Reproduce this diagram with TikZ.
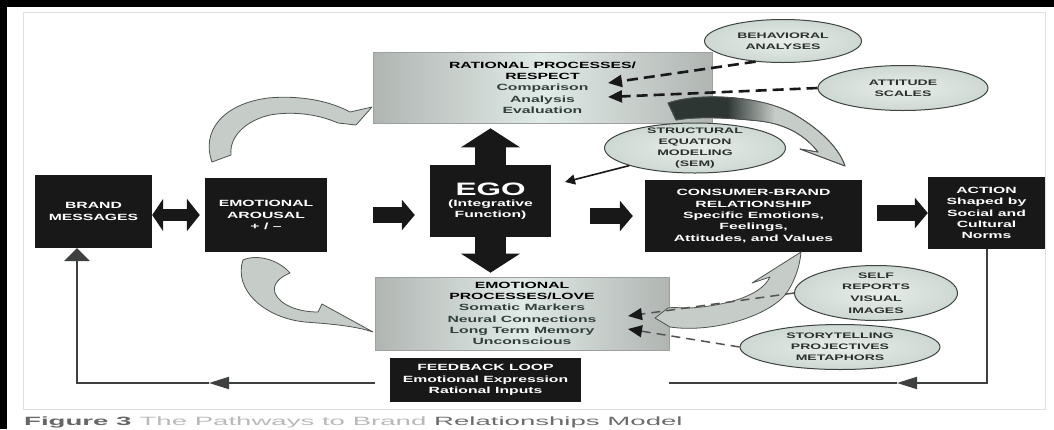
\documentclass[tikz,border=0pt]{standalone}
\usepackage{fontspec}
\setmainfont{Liberation Sans}[FakeStretch=1.75]
\newfontfamily\captionfont{Liberation Sans}[FakeStretch=2.3]
\usetikzlibrary{arrows.meta,shapes.geometric}

\definecolor{boxblack}{RGB}{24,24,24}
\definecolor{procedge}{RGB}{176,181,178}
\definecolor{procmid}{RGB}{224,234,230}
\definecolor{proctext}{RGB}{50,64,60}
\definecolor{ovalfill}{RGB}{206,216,210}
\definecolor{ovalin}{RGB}{232,238,234}
\definecolor{ovaledge}{RGB}{62,68,66}
\definecolor{bendfill}{RGB}{198,204,200}
\definecolor{bendedge}{RGB}{78,84,80}
\definecolor{benddark}{RGB}{46,54,51}
\definecolor{loopgray}{RGB}{62,64,64}

\newcommand{\proc}[1]{\textcolor{proctext}{#1}}

\tikzset{
  blackbox/.style={font=\bfseries\fontsize{9}{11.3}\selectfont, fill=boxblack, text=white, align=center, inner sep=0pt},
  procbox/.style={font=\bfseries\fontsize{9}{11.3}\selectfont, draw=gray!75, line width=0.6pt,
    left color=procedge, right color=procedge, middle color=procmid, text=black, align=center, inner sep=0pt},
  oval/.style={ellipse, draw=ovaledge, line width=1pt, inner color=ovalin, outer color=ovalfill, inner sep=0pt},
  ovaltext/.style={font=\bfseries\fontsize{8}{11.3}\selectfont, text=ovaledge!70!black, align=center, inner sep=0pt},
  fat/.style={color=boxblack, line width=16pt, -{Triangle[length=13pt,width=30pt]}},
  fatdouble/.style={color=boxblack, line width=12pt, {Triangle[length=11pt,width=32pt]}-{Triangle[length=13pt,width=32pt]}},
  fatv/.style={color=boxblack, line width=31pt, -{Triangle[length=19pt,width=58pt]}},
  dashtop/.style={color=boxblack, line width=2.6pt, dash pattern=on 11pt off 6pt, -{Triangle[length=14pt,width=12pt]}},
  dashlow/.style={draw=gray!65!black, line width=1.5pt, dash pattern=on 9pt off 6pt, -{Triangle[length=14pt,width=12pt,color=boxblack]}},
  semline/.style={color=boxblack, line width=1.6pt, -{Triangle[length=10pt,width=10pt]}},
  loopline/.style={color=loopgray, line width=2pt},
  bendarrow/.style={fill=bendfill, draw=bendedge, line width=0.8pt, line join=round},
}

\newcommand{\bendpathC}{(668,103) .. controls (700,92) and (760,96) .. (792,113)
  .. controls (815,126) and (838,145) .. (845,166) -- (800,149) -- (818,152)
  .. controls (805,135) and (785,124) .. (760,121) .. controls (730,118) and (700,116) .. (676,120) -- cycle}

\begin{document}
\begin{tikzpicture}[x=1pt, y=-1pt]
    \useasboundingbox (0,0) rectangle (1054,429);
    \fill[white] (0,0) rectangle (1054,429);
    % Page edges and figure frame
    \fill[black] (0,0) rectangle (1054,7);
    \fill[black] (0,0) rectangle (7,429);
    \draw[gray!25, line width=1pt] (23,12) rectangle (1045,409);

    % Black boxes
    \node[blackbox, minimum width=117pt, minimum height=73pt] (brand) at (93.5,211.5) {BRAND\\MESSAGES};
    \node[blackbox, minimum width=122pt, minimum height=74pt] (arousal) at (266,215) {EMOTIONAL\\AROUSAL\\+ / --};
    \node[blackbox, minimum width=121pt, minimum height=72pt] (ego) at (490.5,201)
        {{\fontsize{18}{20}\selectfont EGO}\\(Integrative\\Function)};
    \node[blackbox, minimum width=217pt, minimum height=72pt] (consumer) at (753.5,216)
        {CONSUMER-BRAND\\RELATIONSHIP\\Specific Emotions,\\Feelings,\\Attitudes, and Values};
    \node[blackbox, minimum width=117pt, minimum height=72pt] (action) at (986.5,213)
        {ACTION\\Shaped by\\Social and\\Cultural\\Norms};
    \node[blackbox, minimum width=191pt, minimum height=44pt] (feedback) at (485.5,380)
        {FEEDBACK LOOP\\Emotional Expression\\Rational Inputs};

    % Shaded process boxes
    \node[procbox, minimum width=339pt, minimum height=71pt] (rational) at (542.5,87.5)
        {RATIONAL PROCESSES/\\RESPECT\\\proc{Comparison}\\\proc{Analysis}\\\proc{Evaluation}};
    \node[procbox, minimum width=294pt, minimum height=73pt] (emoproc) at (522,313.5)
        {EMOTIONAL\\PROCESSES/LOVE\\\proc{Somatic Markers}\\\proc{Neural Connections}\\\proc{Long Term Memory}\\\proc{Unconscious}};

    % Curved arrows from arousal to both processes
    \draw[bendarrow] (212,162) .. controls (201,132) and (222,104) .. (268,98)
        .. controls (300,95) and (330,101) .. (350,112) -- (372,107) -- (356,125) -- (338,123)
        .. controls (318,114) and (292,111) .. (270,115) .. controls (248,120) and (229,135) .. (231,155) -- cycle;
    \draw[bendarrow] (243,260) .. controls (233,290) and (265,318) .. (305,322)
        .. controls (332,324) and (355,326) .. (373,332) -- (322,304) -- (318,312)
        .. controls (298,312) and (280,305) .. (275,293) .. controls (272,284) and (280,277) .. (290,273)
        .. controls (278,259) and (256,254) .. (243,260) -- cycle;
    % Curved arrow from emotional processes up to the relationship
    \draw[bendarrow] (668,308) -- (655,318) -- (670,327) .. controls (710,333) and (765,318) .. (785,295)
        .. controls (795,282) and (800,265) .. (801,252) -- (752,283) -- (770,277)
        .. controls (760,298) and (720,306) .. (690,308) .. controls (680,308) and (673,307) .. (668,308) -- cycle;

    % Measurement ovals
    \node[oval, minimum width=157pt, minimum height=43pt] (behav) at (783,41) {};
    \node[ovaltext] (behavtext) at (behav) {BEHAVIORAL\\ANALYSES};
    \node[oval, minimum width=170pt, minimum height=45pt] (attitude) at (903,88) {};
    \node[ovaltext] (attitudetext) at (attitude) {ATTITUDE\\SCALES};
    \node[oval, minimum width=181pt, minimum height=50pt] (sem) at (695,148) {};
    \node[ovaltext] (semtext) at (sem) {STRUCTURAL\\EQUATION\\MODELING\\(SEM)};
    \node[oval, minimum width=163pt, minimum height=55pt] (self) at (876,293) {};
    \node[ovaltext, font=\bfseries\fontsize{8}{11.7}\selectfont] (selftext) at (self) {SELF\\REPORTS\\VISUAL\\IMAGES};
    \node[oval, minimum width=200pt, minimum height=45pt] (story) at (840,347) {};
    \node[ovaltext, font=\bfseries\fontsize{8}{11}\selectfont] (storytext) at (story) {STORYTELLING\\PROJECTIVES\\METAPHORS};

    % Curved arrow from rational processes down to the relationship
    \draw[bendarrow] \bendpathC;
    \begin{scope}
        \clip \bendpathC;
        \fill[benddark] (660,80) rectangle (728,130);
        \fill[left color=benddark, right color=bendfill] (727,80) rectangle (775,130);
    \end{scope}
    \draw[draw=bendedge, line width=0.8pt, line join=round] \bendpathC;

    % Dashed measurement arrows
    \coordinate (tipbehav) at (608,83);
    \coordinate (tipattitude) at (608,97);
    \coordinate (tipself) at (628,316);
    \coordinate (tipstory) at (628,329);
    \draw[dashtop] (behav.217) -- (tipbehav);
    \draw[dashtop] (attitude.west) -- (tipattitude);
    \draw[dashlow] (self.west) -- (tipself);
    \draw[dashlow] (story.west) -- (tipstory);
    % SEM to ego
    \coordinate (semtip) at (565,182);
    \draw[semline] (sem.195) -- (semtip);

    % Block arrows between the boxes
    \draw[fatdouble] (brand.east |- arousal.west) -- ([xshift=-5pt]arousal.west);
    \draw[fat] ([xshift=46pt]arousal.east) -- ([xshift=-15pt]arousal.east -| ego.west);
    \draw[fat] ([xshift=39pt]ego.east |- consumer.west) -- ([xshift=-12pt]consumer.west);
    \draw[fat] ([xshift=15pt]consumer.east |- action.west) -- (action.west);
    \draw[fatv] (ego.north) -- ([yshift=-5pt]ego.north |- rational.south);
    \draw[fatv] (ego.south) -- ([yshift=4pt]ego.south |- emoproc.north);

    % Feedback loop lines
    \coordinate (loopcornerR) at (action.south |- 0,383);
    \coordinate (loopheadR) at (897,383);
    \coordinate (loopendR) at (669,383);
    \draw[loopline, -{Triangle[length=20pt,width=12pt]}] (action.south) -- (loopcornerR) -- (loopheadR);
    \draw[loopline] (loopheadR) -- (loopendR);
    \coordinate (loopstartL) at ([xshift=-15pt]feedback.west |- 0,383);
    \coordinate (loopheadL) at (209,383);
    \coordinate (loopcornerL) at (77,383);
    \draw[loopline, -{Triangle[length=20pt,width=12pt]}] (loopstartL) -- (loopheadL);
    \draw[loopline, -{Triangle[length=13pt,width=26pt]}] (loopheadL) -- (loopcornerL) -- (loopcornerL |- brand.south);

    % Caption
    \node[anchor=base west, inner sep=0pt, font=\captionfont\fontsize{12}{14}\selectfont] (caption) at (24,425)
        {\textcolor{gray!80!black}{\bfseries Figure 3}\hspace{8pt}\textcolor{gray!55}{The Pathways to Brand} \textcolor{gray!85!black}{Relationships Model}};
\end{tikzpicture}
\end{document}
